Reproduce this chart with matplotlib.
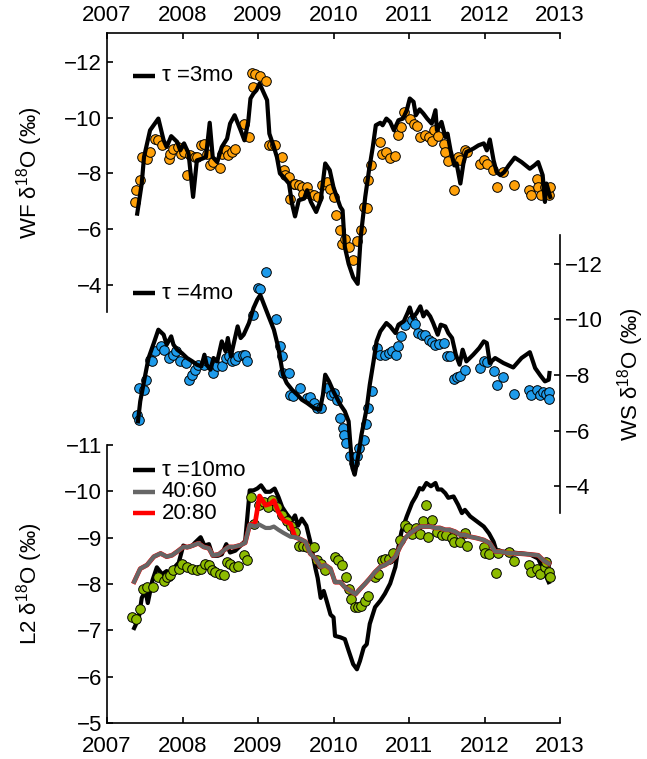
import matplotlib
matplotlib.use('Agg')
import matplotlib.pyplot as plt

# ---- WF (top panel) ----
wf_line_t = [2007.40, 2007.46, 2007.49, 2007.57, 2007.68, 2007.75, 2007.79, 2007.85, 2007.93, 2007.97,
             2008.02, 2008.08, 2008.14, 2008.19, 2008.26, 2008.31, 2008.36, 2008.40, 2008.46, 2008.52,
             2008.59, 2008.63, 2008.69, 2008.77, 2008.82, 2008.87, 2008.90, 2008.94, 2008.98, 2009.02,
             2009.08, 2009.12, 2009.15, 2009.21, 2009.25, 2009.29, 2009.34, 2009.41, 2009.45, 2009.49,
             2009.54, 2009.61, 2009.65, 2009.70, 2009.77, 2009.83, 2009.89, 2009.95, 2010.00, 2010.09,
             2010.12, 2010.15, 2010.20, 2010.26, 2010.32, 2010.36, 2010.42, 2010.47, 2010.52, 2010.56,
             2010.62, 2010.65, 2010.70, 2010.75, 2010.80, 2010.86, 2010.92, 2010.97, 2011.01, 2011.06,
             2011.09, 2011.14, 2011.19, 2011.24, 2011.30, 2011.35, 2011.37, 2011.43, 2011.48, 2011.51,
             2011.55, 2011.60, 2011.63, 2011.68, 2011.72, 2011.76, 2011.85, 2011.92, 2011.99, 2012.03,
             2012.07, 2012.12, 2012.16, 2012.21, 2012.26, 2012.32, 2012.40, 2012.49, 2012.60, 2012.66,
             2012.71, 2012.77, 2012.80, 2012.82, 2012.87]
wf_line_v = [-6.56, -7.64, -8.59, -9.55, -9.97, -9.19, -8.95, -9.34, -9.13, -8.83,
             -9.08, -8.72, -7.16, -8.47, -8.53, -8.59, -9.82, -8.59, -8.41, -8.95,
             -9.25, -9.79, -10.09, -9.55, -9.19, -9.85, -10.69, -10.87, -10.99, -11.23,
             -10.87, -10.63, -9.43, -8.95, -8.59, -8.00, -7.87, -7.64, -6.92, -6.46,
             -7.04, -7.10, -7.40, -6.98, -6.62, -7.04, -8.36, -8.12, -7.50, -6.80,
             -6.68, -5.36, -4.76, -4.28, -4.04, -5.72, -7.16, -8.12, -8.95, -9.73,
             -9.82, -9.73, -9.97, -9.85, -9.55, -9.91, -9.97, -10.27, -10.69, -10.57,
             -10.09, -10.30, -10.15, -9.97, -9.79, -10.27, -9.55, -9.85, -9.31, -9.43,
             -8.83, -8.29, -8.36, -7.64, -8.36, -8.77, -8.89, -9.01, -9.08, -8.83,
             -9.22, -8.47, -8.05, -7.94, -8.05, -8.29, -8.57, -8.41, -8.17, -8.29,
             -8.41, -7.94, -6.98, -7.64, -7.16]

wf_pts_t = [2007.375, 2007.39, 2007.44, 2007.46, 2007.53, 2007.57, 2007.64, 2007.67, 2007.73, 2007.82,
            2007.84, 2007.88, 2007.94, 2007.98, 2008.02, 2008.06, 2008.10, 2008.17, 2008.19, 2008.24,
            2008.28, 2008.32, 2008.37, 2008.41, 2008.50, 2008.52, 2008.57, 2008.60, 2008.66, 2008.70,
            2008.81, 2008.88, 2008.92, 2008.93, 2008.96, 2009.03, 2009.10, 2009.14, 2009.19, 2009.23,
            2009.32, 2009.34, 2009.36, 2009.41, 2009.42, 2009.47, 2009.49, 2009.54, 2009.58, 2009.60,
            2009.65, 2009.69, 2009.74, 2009.80, 2009.85, 2009.91, 2009.95, 2010.01, 2010.03, 2010.09,
            2010.11, 2010.15, 2010.20, 2010.26, 2010.31, 2010.36, 2010.40, 2010.44, 2010.45, 2010.49,
            2010.61, 2010.64, 2010.70, 2010.75, 2010.82, 2010.86, 2010.90, 2010.93, 2011.01, 2011.06,
            2011.11, 2011.15, 2011.21, 2011.26, 2011.30, 2011.33, 2011.39, 2011.46, 2011.48, 2011.52,
            2011.60, 2011.65, 2011.68, 2011.74, 2011.77, 2011.94, 2011.99, 2012.03, 2012.11, 2012.16,
            2012.24, 2012.39, 2012.59, 2012.61, 2012.69, 2012.71, 2012.75, 2012.80, 2012.85, 2012.87]
wf_pts_v = [-6.98, -7.40, -7.76, -8.59, -8.53, -8.77, -9.25, -9.19, -9.01, -8.53,
            -8.71, -8.89, -8.95, -8.71, -8.77, -7.94, -8.65, -8.59, -8.59, -9.01,
            -9.07, -8.71, -8.29, -8.41, -8.18, -8.71, -8.83, -8.65, -8.77, -8.89,
            -9.79, -9.31, -11.62, -11.11, -11.57, -11.50, -11.32, -9.01, -9.01, -9.01,
            -8.59, -8.11, -7.94, -7.88, -7.10, -7.64, -7.64, -7.58, -7.52, -7.28,
            -7.52, -7.28, -7.22, -7.16, -7.58, -7.70, -7.46, -7.16, -6.50, -5.96,
            -5.48, -5.66, -5.36, -4.88, -5.57, -5.96, -6.80, -6.77, -7.76, -8.29,
            -9.13, -8.71, -8.77, -8.57, -8.62, -9.37, -9.67, -10.21, -9.97, -9.77,
            -9.70, -9.31, -9.37, -9.31, -9.17, -9.55, -9.34, -9.07, -8.77, -8.45,
            -7.40, -8.59, -8.47, -8.83, -8.77, -8.35, -8.47, -8.35, -8.11, -7.52,
            -8.05, -7.58, -7.40, -7.22, -7.82, -7.52, -7.22, -7.52, -7.22, -7.52]

# ---- WS (middle panel) ----
ws_line_t = [2007.41, 2007.44, 2007.49, 2007.55, 2007.62, 2007.68, 2007.75, 2007.79, 2007.85, 2007.88,
             2007.93, 2007.99, 2008.06, 2008.13, 2008.19, 2008.25, 2008.29, 2008.32, 2008.37, 2008.41,
             2008.46, 2008.52, 2008.57, 2008.60, 2008.64, 2008.69, 2008.73, 2008.77, 2008.81, 2008.88,
             2008.94, 2008.99, 2009.03, 2009.08, 2009.14, 2009.21, 2009.27, 2009.30, 2009.33, 2009.38,
             2009.45, 2009.52, 2009.58, 2009.65, 2009.74, 2009.82, 2009.86, 2009.89, 2009.94, 2010.00,
             2010.09, 2010.15, 2010.20, 2010.22, 2010.25, 2010.28, 2010.33, 2010.37, 2010.44, 2010.48,
             2010.53, 2010.57, 2010.62, 2010.70, 2010.75, 2010.82, 2010.86, 2010.93, 2010.98, 2011.01,
             2011.05, 2011.10, 2011.15, 2011.19, 2011.23, 2011.28, 2011.32, 2011.38, 2011.42, 2011.48,
             2011.52, 2011.57, 2011.62, 2011.67, 2011.71, 2011.76, 2011.85, 2011.93, 2011.99, 2012.03,
             2012.07, 2012.14, 2012.25, 2012.38, 2012.49, 2012.60, 2012.67, 2012.74, 2012.80, 2012.85,
             2012.86]
ws_line_v = [-6.33, -7.05, -7.77, -8.61, -9.15, -9.63, -9.45, -9.09, -9.39, -9.09,
             -8.91, -8.79, -8.61, -8.49, -8.37, -8.31, -8.73, -8.37, -8.19, -8.61,
             -8.49, -9.21, -8.85, -9.33, -8.67, -9.27, -9.75, -9.33, -9.45, -9.87,
             -10.41, -10.71, -10.88, -10.53, -10.11, -9.63, -8.97, -8.49, -8.01, -7.71,
             -7.47, -7.29, -7.11, -6.99, -6.81, -6.75, -7.29, -8.01, -7.77, -7.40,
             -6.93, -6.69, -6.33, -5.61, -4.65, -4.41, -5.13, -5.85, -6.81, -7.65,
             -8.49, -9.21, -9.57, -9.87, -9.75, -9.51, -9.81, -9.93, -10.23, -10.43,
             -10.05, -10.23, -10.47, -10.11, -10.29, -10.11, -9.87, -9.45, -9.81, -9.75,
             -9.51, -9.33, -8.73, -8.37, -8.91, -8.49, -8.73, -8.97, -9.21, -9.15,
             -8.43, -8.61, -8.43, -8.27, -8.61, -8.82, -8.25, -7.98, -7.77, -7.83,
             -8.07]

ws_pts_t = [2007.40, 2007.42, 2007.43, 2007.49, 2007.51, 2007.57, 2007.60, 2007.64, 2007.71, 2007.75,
            2007.82, 2007.88, 2007.91, 2007.97, 2008.04, 2008.08, 2008.13, 2008.17, 2008.21, 2008.28,
            2008.32, 2008.41, 2008.46, 2008.52, 2008.57, 2008.61, 2008.66, 2008.70, 2008.74, 2008.80,
            2008.83, 2008.85, 2008.94, 2009.00, 2009.02, 2009.10, 2009.24, 2009.29, 2009.32, 2009.33,
            2009.41, 2009.43, 2009.46, 2009.56, 2009.65, 2009.69, 2009.74, 2009.78, 2009.83, 2009.91,
            2009.96, 2010.00, 2010.04, 2010.09, 2010.12, 2010.14, 2010.17, 2010.22, 2010.27, 2010.31,
            2010.34, 2010.40, 2010.43, 2010.46, 2010.51, 2010.57, 2010.62, 2010.68, 2010.73, 2010.77,
            2010.83, 2010.86, 2010.90, 2010.95, 2011.04, 2011.08, 2011.12, 2011.17, 2011.21, 2011.26,
            2011.30, 2011.35, 2011.40, 2011.46, 2011.50, 2011.54, 2011.59, 2011.63, 2011.68, 2011.74,
            2011.94, 2011.99, 2012.03, 2012.12, 2012.16, 2012.25, 2012.39, 2012.59, 2012.61, 2012.69,
            2012.73, 2012.77, 2012.82, 2012.85, 2012.85]
ws_pts_v = [-6.57, -6.39, -7.53, -7.47, -7.83, -8.55, -8.49, -8.85, -9.03, -8.91,
            -8.61, -8.73, -8.85, -8.49, -8.43, -7.83, -8.01, -8.19, -8.37, -8.37,
            -8.49, -8.07, -8.31, -8.31, -8.61, -8.67, -8.49, -8.55, -8.67, -8.73,
            -8.73, -8.49, -10.17, -11.13, -11.09, -11.69, -10.01, -9.03, -8.67, -8.07,
            -8.07, -7.29, -7.23, -7.53, -7.17, -7.19, -6.99, -6.81, -6.81, -7.53,
            -7.29, -7.35, -7.11, -6.45, -6.09, -5.85, -5.55, -5.07, -4.83, -5.07,
            -5.37, -5.67, -6.23, -6.81, -7.41, -8.97, -8.73, -8.73, -8.79, -8.85,
            -8.73, -9.03, -9.39, -9.81, -9.99, -9.83, -9.51, -9.45, -9.45, -9.27,
            -9.18, -9.09, -9.11, -9.15, -8.67, -8.67, -7.86, -7.91, -7.98, -8.19,
            -8.25, -8.51, -8.46, -8.13, -7.65, -7.91, -7.31, -7.47, -7.29, -7.47,
            -7.29, -7.38, -7.31, -7.38, -7.14]

# ---- L2 (bottom panel) ----
l2_tau_t = [2007.36, 2007.42, 2007.46, 2007.51, 2007.54, 2007.60, 2007.66, 2007.73, 2007.79, 2007.85,
            2007.91, 2007.95, 2008.01, 2008.06, 2008.13, 2008.17, 2008.24, 2008.29, 2008.35, 2008.40,
            2008.47, 2008.52, 2008.58, 2008.63, 2008.70, 2008.77, 2008.83, 2008.89, 2008.94, 2008.99,
            2009.04, 2009.10, 2009.16, 2009.22, 2009.27, 2009.32, 2009.38, 2009.45, 2009.49, 2009.53,
            2009.58, 2009.64, 2009.69, 2009.76, 2009.79, 2009.83, 2009.87, 2009.91, 2009.96, 2010.00,
            2010.02, 2010.09, 2010.15, 2010.20, 2010.26, 2010.31, 2010.35, 2010.40, 2010.44, 2010.48,
            2010.55, 2010.62, 2010.68, 2010.75, 2010.82, 2010.86, 2010.90, 2010.97, 2011.04, 2011.09,
            2011.14, 2011.18, 2011.23, 2011.29, 2011.35, 2011.38, 2011.43, 2011.48, 2011.52, 2011.59,
            2011.65, 2011.70, 2011.74, 2011.81, 2011.90, 2011.99, 2012.06, 2012.12, 2012.16, 2012.25,
            2012.43, 2012.60, 2012.71, 2012.78, 2012.85]
l2_tau_v = [-7.05, -7.26, -7.70, -7.85, -7.59, -8.07, -8.36, -8.21, -8.28, -8.10,
            -8.39, -8.46, -8.83, -8.79, -8.83, -8.90, -9.01, -8.83, -8.86, -8.61,
            -8.61, -8.64, -8.86, -8.68, -8.72, -8.83, -8.93, -10.02, -10.02, -10.06,
            -10.13, -9.99, -9.99, -10.06, -9.88, -9.66, -9.51, -9.37, -9.48, -9.26,
            -9.41, -9.26, -8.93, -8.34, -8.13, -7.70, -7.85, -7.63, -7.34, -7.28,
            -6.88, -6.85, -6.81, -6.56, -6.27, -6.16, -6.34, -6.63, -6.70, -7.14,
            -7.50, -7.64, -7.79, -8.01, -8.37, -8.80, -9.13, -9.46, -9.75, -9.89,
            -10.07, -10.04, -10.18, -10.11, -10.18, -10.04, -10.04, -9.96, -9.86, -9.89,
            -9.71, -9.53, -9.60, -9.46, -9.35, -9.24, -9.09, -8.91, -8.70, -8.70,
            -8.67, -8.64, -8.55, -8.30, -8.04]

l2_mix_t = [2007.36, 2007.44, 2007.53, 2007.62, 2007.71, 2007.79, 2007.86, 2007.93, 2008.01, 2008.08,
            2008.15, 2008.21, 2008.28, 2008.35, 2008.40, 2008.48, 2008.55, 2008.61, 2008.68, 2008.77,
            2008.83, 2008.89, 2008.96, 2009.02, 2009.10, 2009.16, 2009.21, 2009.27, 2009.34, 2009.43,
            2009.49, 2009.56, 2009.63, 2009.69, 2009.76, 2009.83, 2009.89, 2009.96, 2010.02, 2010.09,
            2010.15, 2010.22, 2010.29, 2010.35, 2010.42, 2010.48, 2010.55, 2010.62, 2010.68, 2010.75,
            2010.82, 2010.88, 2010.95, 2011.01, 2011.08, 2011.15, 2011.21, 2011.28, 2011.35, 2011.41,
            2011.48, 2011.54, 2011.61, 2011.68, 2011.74, 2011.81, 2011.90, 2011.99, 2012.07, 2012.14,
            2012.21, 2012.30, 2012.43, 2012.60, 2012.71, 2012.78, 2012.85]
l2_4060_v = [-8.05, -8.33, -8.41, -8.59, -8.66, -8.59, -8.62, -8.70, -8.80, -8.80,
             -8.84, -8.88, -8.80, -8.77, -8.62, -8.64, -8.73, -8.80, -8.80, -8.84,
             -8.89, -9.28, -9.24, -9.28, -9.21, -9.21, -9.24, -9.17, -9.10, -9.02,
             -9.01, -8.97, -8.91, -8.66, -8.55, -8.37, -8.41, -8.33, -8.04, -8.04,
             -7.93, -7.86, -7.78, -7.89, -8.01, -8.12, -8.26, -8.37, -8.41, -8.48,
             -8.59, -8.80, -8.99, -9.09, -9.17, -9.24, -9.24, -9.24, -9.21, -9.21,
             -9.17, -9.17, -9.13, -9.06, -9.06, -9.02, -8.99, -8.95, -8.88, -8.70,
             -8.70, -8.67, -8.66, -8.64, -8.62, -8.51, -8.44]
# 20:80 mix only departs from 40:60 during 2009
l2_2080_v = [-8.05, -8.33, -8.41, -8.59, -8.66, -8.59, -8.62, -8.70, -8.80, -8.80,
             -8.84, -8.88, -8.80, -8.77, -8.62, -8.64, -8.73, -8.80, -8.80, -8.84,
             -8.89, -9.28, -9.30, -9.90, -9.70, -9.73, -9.80, -9.55, -9.37, -9.30,
             -9.01, -8.97, -8.91, -8.66, -8.55, -8.37, -8.41, -8.33, -8.04, -8.04,
             -7.93, -7.86, -7.78, -7.89, -8.01, -8.12, -8.26, -8.37, -8.41, -8.48,
             -8.59, -8.80, -8.99, -9.09, -9.17, -9.24, -9.24, -9.24, -9.21, -9.21,
             -9.17, -9.17, -9.13, -9.06, -9.06, -9.02, -8.99, -8.95, -8.88, -8.70,
             -8.70, -8.67, -8.66, -8.64, -8.62, -8.51, -8.44]

l2_pts_t = [2007.33, 2007.39, 2007.44, 2007.48, 2007.53, 2007.61, 2007.68, 2007.75, 2007.79, 2007.84,
            2007.88, 2007.95, 2007.99, 2008.06, 2008.13, 2008.19, 2008.24, 2008.30, 2008.35, 2008.39,
            2008.43, 2008.50, 2008.55, 2008.59, 2008.63, 2008.68, 2008.74, 2008.82, 2008.85, 2008.91,
            2008.95, 2009.01, 2009.08, 2009.13, 2009.19, 2009.25, 2009.32, 2009.38, 2009.44, 2009.49,
            2009.54, 2009.60, 2009.65, 2009.74, 2009.78, 2009.83, 2009.89, 2010.02, 2010.06, 2010.11,
            2010.17, 2010.20, 2010.23, 2010.28, 2010.33, 2010.37, 2010.42, 2010.46, 2010.55, 2010.59,
            2010.64, 2010.68, 2010.73, 2010.79, 2010.88, 2010.94, 2010.99, 2011.04, 2011.09, 2011.15,
            2011.18, 2011.23, 2011.25, 2011.30, 2011.37, 2011.43, 2011.49, 2011.57, 2011.59, 2011.68,
            2011.74, 2011.77, 2011.99, 2012.00, 2012.06, 2012.15, 2012.18, 2012.32, 2012.39, 2012.59,
            2012.61, 2012.69, 2012.74, 2012.80, 2012.82, 2012.85, 2012.87]
l2_pts_v = [-7.28, -7.25, -7.46, -7.90, -7.93, -7.93, -8.15, -8.07, -8.15, -8.19,
            -8.30, -8.33, -8.44, -8.37, -8.33, -8.30, -8.33, -8.44, -8.41, -8.30,
            -8.26, -8.22, -8.19, -8.48, -8.44, -8.37, -8.38, -8.62, -8.51, -9.88,
            -9.30, -9.70, -9.78, -9.67, -9.81, -9.67, -9.48, -9.37, -9.26, -9.12,
            -8.83, -8.83, -8.80, -8.80, -8.51, -8.44, -8.30, -8.59, -8.51, -8.41,
            -8.15, -7.90, -7.68, -7.50, -7.50, -7.53, -7.64, -7.75, -8.15, -8.22,
            -8.51, -8.55, -8.55, -8.66, -8.95, -9.28, -9.21, -9.09, -9.21, -9.09,
            -9.35, -9.70, -9.01, -9.39, -9.13, -9.06, -9.06, -8.99, -8.91, -8.91,
            -9.11, -8.82, -8.80, -8.67, -8.64, -8.24, -8.67, -8.70, -8.50, -8.41,
            -8.26, -8.33, -8.22, -8.37, -8.48, -8.26, -8.15]

years = [2007, 2008, 2009, 2010, 2011, 2012, 2013]

ORANGE = '#FFA10A'
BLUE = '#1E9BEB'
GREEN = '#8DBB00'
GRAY = '#666666'
RED = '#FF0000'

plt.rcParams['font.family'] = ['Liberation Sans', 'DejaVu Sans']
plt.rcParams['mathtext.default'] = 'regular'
plt.rcParams['font.size'] = 16
plt.rcParams['axes.linewidth'] = 1.2

fig = plt.figure(figsize=(6.47, 7.59), dpi=100)

L, W = 0.1654, 0.7002
ax_wf = fig.add_axes([L, 0.5889, W, 0.3676])
ax_ws = fig.add_axes([L, 0.3241, W, 0.3663])
ax_l2 = fig.add_axes([L, 0.0474, W, 0.3663])

for ax in (ax_wf, ax_ws, ax_l2):
    ax.patch.set_visible(False)
    ax.set_xlim(2007, 2013)
    ax.tick_params(direction='in', length=4, width=1.2, labelsize=16)

def legend_entry(ax, y, label, color):
    ax.plot([0.057, 0.106], [y, y], color=color, lw=3.2, transform=ax.transAxes,
            solid_capstyle='butt', clip_on=False)
    ax.text(0.121, y, label, transform=ax.transAxes, va='center', ha='left', fontsize=16)

# top panel: WF
ax_wf.scatter(wf_pts_t, wf_pts_v, s=48, c=ORANGE, edgecolors='black', linewidths=0.7, zorder=2)
ax_wf.plot(wf_line_t, wf_line_v, color='black', lw=3, zorder=3)
ax_wf.set_ylim(-3.03, -13.04)
ax_wf.set_yticks([-12, -10, -8, -6, -4])
ax_wf.set_xticks(years)
ax_wf.xaxis.tick_top()
ax_wf.tick_params(axis='x', pad=5)
ax_wf.spines['bottom'].set_visible(False)
ax_wf.spines['right'].set_visible(False)
ax_wf.set_ylabel('WF δ$^{18}$O (‰)', fontsize=16)
ax_wf.yaxis.set_label_coords(-0.137, 0.5)
legend_entry(ax_wf, 0.846, 'τ =3mo', 'black')

# middle panel: WS
ax_ws.scatter(ws_pts_t, ws_pts_v, s=48, c=BLUE, edgecolors='black', linewidths=0.7, zorder=2)
ax_ws.plot(ws_line_t, ws_line_v, color='black', lw=3, zorder=3)
ax_ws.set_ylim(-3.03, -13.04)
ax_ws.set_yticks([-12, -10, -8, -6, -4])
ax_ws.yaxis.tick_right()
ax_ws.yaxis.set_label_position('right')
ax_ws.set_xticks([])
for s in ('left', 'top', 'bottom'):
    ax_ws.spines[s].set_visible(False)
ax_ws.set_ylabel('WS δ$^{18}$O (‰)', fontsize=16, rotation=90)
ax_ws.yaxis.set_label_coords(1.122, 0.5)
legend_entry(ax_ws, 0.791, 'τ =4mo', 'black')

# bottom panel: L2
ax_l2.plot(l2_tau_t, l2_tau_v, color='black', lw=3, zorder=2)
ax_l2.scatter(l2_pts_t, l2_pts_v, s=48, c=GREEN, edgecolors='black', linewidths=0.7, zorder=3)
ax_l2.plot(l2_mix_t, l2_2080_v, color=RED, lw=3.4, zorder=4)
ax_l2.plot(l2_mix_t, l2_4060_v, color=GRAY, lw=3, zorder=5)
ax_l2.set_ylim(-5, -11)
ax_l2.set_yticks([-11, -10, -9, -8, -7, -6, -5])
ax_l2.set_xticks(years)
ax_l2.tick_params(axis='x', pad=9)
ax_l2.spines['top'].set_visible(False)
ax_l2.spines['right'].set_visible(False)
ax_l2.set_ylabel('L2 δ$^{18}$O (‰)', fontsize=16)
ax_l2.yaxis.set_label_coords(-0.137, 0.5)
legend_entry(ax_l2, 0.910, 'τ =10mo', 'black')
legend_entry(ax_l2, 0.832, '40:60', GRAY)
legend_entry(ax_l2, 0.754, '20:80', RED)

fig.savefig('out.png', dpi=100)
